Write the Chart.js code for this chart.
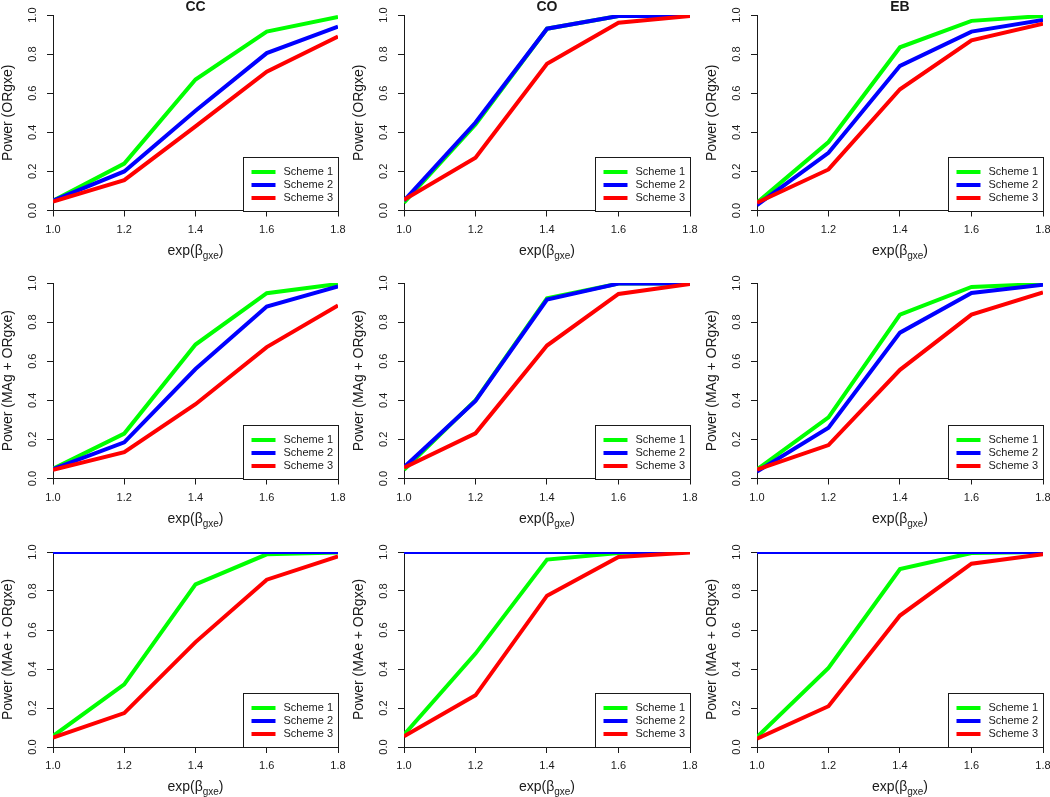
<!DOCTYPE html>
<html>
<head>
<meta charset="utf-8">
<script src="https://cdn.jsdelivr.net/npm/chart.js@4.4.0/dist/chart.umd.min.js"></script>
<style>
  body { margin: 0; background: #fff; }
  #wrap { position: relative; width: 1050px; height: 797px; overflow: hidden; background: #fff; }
  #wrap canvas { position: absolute; }
</style>
</head>
<body>
<div id="wrap"></div>
<script>
// --- data ---
const betaValues = [1.0, 1.2, 1.4, 1.6, 1.8];
const xTicks = [1.0, 1.2, 1.4, 1.6, 1.8];
const yTicks = [0.0, 0.2, 0.4, 0.6, 0.8, 1.0];
const designs = ['CC', 'CO', 'EB'];
const yTitles = ['Power (ORgxe)', 'Power (MAg + ORgxe)', 'Power (MAe + ORgxe)'];
const schemeNames = ['Scheme 1', 'Scheme 2', 'Scheme 3'];
const schemeColors = ['#00ff00', '#0000ff', '#ff0000'];

// row 1: ORgxe
const orCC1 = [0.05, 0.24, 0.67, 0.915, 0.99];
const orCC2 = [0.05, 0.20, 0.51, 0.805, 0.94];
const orCC3 = [0.045, 0.155, 0.43, 0.71, 0.89];
const orCO1 = [0.04, 0.44, 0.93, 0.995, 0.995];
const orCO2 = [0.05, 0.45, 0.93, 0.995, 0.995];
const orCO3 = [0.055, 0.27, 0.75, 0.96, 0.995];
const orEB1 = [0.04, 0.35, 0.835, 0.97, 0.995];
const orEB2 = [0.028, 0.295, 0.74, 0.915, 0.975];
const orEB3 = [0.04, 0.21, 0.62, 0.87, 0.955];

// row 2: MAg + ORgxe
const magCC1 = [0.05, 0.23, 0.685, 0.948, 0.995];
const magCC2 = [0.048, 0.185, 0.56, 0.88, 0.982];
const magCC3 = [0.044, 0.135, 0.38, 0.672, 0.885];
const magCO1 = [0.045, 0.40, 0.922, 0.997, 0.997];
const magCO2 = [0.058, 0.397, 0.915, 0.997, 0.997];
const magCO3 = [0.055, 0.231, 0.68, 0.944, 0.995];
const magEB1 = [0.046, 0.313, 0.838, 0.98, 0.995];
const magEB2 = [0.035, 0.26, 0.746, 0.949, 0.991];
const magEB3 = [0.046, 0.171, 0.556, 0.838, 0.952];

// row 3: MAe + ORgxe
const maeCC1 = [0.056, 0.321, 0.834, 0.988, 0.997];
const maeCC2 = [1.0, 1.0, 1.0, 1.0, 1.0];
const maeCC3 = [0.048, 0.174, 0.538, 0.858, 0.978];
const maeCO1 = [0.063, 0.479, 0.961, 0.995, 1.0];
const maeCO2 = [1.0, 1.0, 1.0, 1.0, 1.0];
const maeCO3 = [0.055, 0.265, 0.776, 0.974, 0.997];
const maeEB1 = [0.051, 0.405, 0.913, 0.995, 1.0];
const maeEB2 = [1.0, 1.0, 1.0, 1.0, 1.0];
const maeEB3 = [0.043, 0.209, 0.674, 0.94, 0.988];

const panelSeries = [
    [[orCC1, orCC2, orCC3], [orCO1, orCO2, orCO3], [orEB1, orEB2, orEB3]],
    [[magCC1, magCC2, magCC3], [magCO1, magCO2, magCO3], [magEB1, magEB2, magEB3]],
    [[maeCC1, maeCC2, maeCC3], [maeCO1, maeCO2, maeCO3], [maeEB1, maeEB2, maeEB3]]
];

// --- layout (page pixels) ---
const INK = '#1a1a1a';
const FONT = '"Liberation Sans", Arial, Helvetica, sans-serif';
const TICK_LEN = 6;
const cellTops = [0, 266, 532];
const cellHeights = [266, 266, 265];
const colAreas = [[53, 338], [404, 690], [757, 1043]];
const rowAreas = [[15, 210.5], [283, 478.5], [552, 747]];

// Draws the R-style texts and the legend box inside the plot
const rPlotText = {
    id: 'rPlotText',
    afterDraw(chart, args, opts) {
        const ctx = chart.ctx;
        const area = chart.chartArea;
        const xs = chart.scales.x;
        const ys = chart.scales.y;
        ctx.save();
        ctx.fillStyle = INK;

        // tick labels
        ctx.font = '11px ' + FONT;
        ctx.textAlign = 'center';
        ctx.textBaseline = 'middle';
        xs.ticks.forEach(t => {
            ctx.fillText(t.value.toFixed(1), xs.getPixelForValue(t.value), area.bottom + 19);
        });
        ys.ticks.forEach(t => {
            ctx.save();
            ctx.translate(area.left - 20, ys.getPixelForValue(t.value));
            ctx.rotate(-Math.PI / 2);
            ctx.fillText(t.value.toFixed(1), 0, 0);
            ctx.restore();
        });

        // y title
        ctx.font = '14px ' + FONT;
        ctx.save();
        ctx.translate(area.left - 45, (area.top + area.bottom) / 2);
        ctx.rotate(-Math.PI / 2);
        ctx.fillText(opts.yTitle, 0, 0);
        ctx.restore();

        // x title: exp(β_gxe)
        ctx.textAlign = 'left';
        ctx.textBaseline = 'alphabetic';
        const mainFont = '14px ' + FONT;
        const subFont = '10px ' + FONT;
        ctx.font = mainFont;
        const w1 = ctx.measureText('exp(\u03B2').width;
        const w3 = ctx.measureText(')').width;
        ctx.font = subFont;
        const w2 = ctx.measureText('gxe').width;
        let x = (area.left + area.right) / 2 - (w1 + w2 + w3) / 2;
        const base = area.bottom + 44;
        ctx.font = mainFont;
        ctx.fillText('exp(\u03B2', x, base);
        x += w1;
        ctx.font = subFont;
        ctx.fillText('gxe', x, base + 4);
        x += w2;
        ctx.font = mainFont;
        ctx.fillText(')', x, base);

        // panel title
        if (opts.title) {
            ctx.font = 'bold 14px ' + FONT;
            ctx.textAlign = 'center';
            ctx.fillText(opts.title, (area.left + area.right) / 2, area.top - 4);
        }

        // legend box (bottom right, inside plot)
        const boxR = Math.round(area.right) + 0.5;
        const boxB = Math.round(area.bottom) + 0.5;
        const boxL = boxR - 95;
        const boxT = boxB - 54;
        ctx.fillStyle = '#fff';
        ctx.fillRect(boxL, boxT, boxR - boxL, boxB - boxT);
        ctx.strokeStyle = INK;
        ctx.lineWidth = 1;
        ctx.strokeRect(boxL, boxT, boxR - boxL, boxB - boxT);
        ctx.font = '11px ' + FONT;
        ctx.textAlign = 'left';
        ctx.textBaseline = 'middle';
        chart.data.datasets.forEach((ds, i) => {
            const y = boxT + 14.5 + i * 13;
            ctx.strokeStyle = ds.borderColor;
            ctx.lineWidth = 4;
            ctx.beginPath();
            ctx.moveTo(boxL + 8, y);
            ctx.lineTo(boxL + 32, y);
            ctx.stroke();
            ctx.fillStyle = INK;
            ctx.fillText(ds.label, boxL + 40, y);
        });
        ctx.restore();
    }
};

function criarPainel(row, col) {
    const wrap = document.getElementById('wrap');
    const canvas = document.createElement('canvas');
    const cellL = col * 350;
    const cellT = cellTops[row];
    const cellW = 350;
    const cellH = cellHeights[row];
    canvas.width = cellW;
    canvas.height = cellH;
    canvas.style.left = cellL + 'px';
    canvas.style.top = cellT + 'px';
    canvas.style.width = cellW + 'px';
    canvas.style.height = cellH + 'px';
    wrap.appendChild(canvas);

    const [aL, aR] = colAreas[col];
    const [aT, aB] = rowAreas[row];
    const series = panelSeries[row][col];

    const datasets = series.map((vals, i) => ({
        label: schemeNames[i],
        data: vals.map((v, k) => ({ x: betaValues[k], y: v })),
        borderColor: schemeColors[i],
        backgroundColor: schemeColors[i],
        borderWidth: 4,
        pointRadius: 0,
        tension: 0,
        fill: false,
        clip: 0,
        order: 2 - i // scheme 3 drawn on top
    }));

    const axisCommon = {
        type: 'linear',
        grid: {
            display: true,
            drawOnChartArea: false,
            drawTicks: true,
            tickLength: TICK_LEN,
            color: INK,
            lineWidth: 1
        },
        border: { display: true, color: INK, width: 1 },
        ticks: { display: false },
        title: { display: false }
    };

    new Chart(canvas.getContext('2d'), {
        type: 'line',
        data: { datasets },
        options: {
            responsive: false,
            animation: false,
            devicePixelRatio: 1,
            layout: {
                autoPadding: false,
                padding: {
                    left: aL - cellL - TICK_LEN,
                    right: cellL + cellW - aR,
                    top: aT - cellT,
                    bottom: cellT + cellH - aB - TICK_LEN
                }
            },
            scales: {
                x: Object.assign({}, axisCommon, {
                    position: 'bottom',
                    min: 1.0,
                    max: 1.8,
                    afterBuildTicks: s => { s.ticks = xTicks.map(v => ({ value: v })); }
                }),
                y: Object.assign({}, axisCommon, {
                    position: 'left',
                    min: 0,
                    max: 1,
                    afterBuildTicks: s => { s.ticks = yTicks.map(v => ({ value: v })); }
                })
            },
            plugins: {
                legend: { display: false },
                tooltip: { enabled: false },
                rPlotText: {
                    title: row === 0 ? designs[col] : '',
                    yTitle: yTitles[row]
                }
            }
        },
        plugins: [rPlotText]
    });
}

for (let r = 0; r < 3; r++) {
    for (let c = 0; c < 3; c++) {
        criarPainel(r, c);
    }
}
</script>
</body>
</html>
